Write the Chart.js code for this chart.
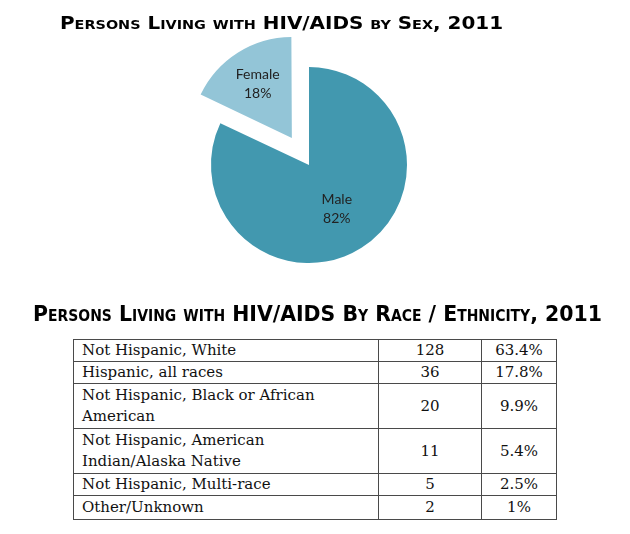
<!DOCTYPE html>
<html>
<head>
<meta charset="utf-8">
<script src="https://cdn.jsdelivr.net/npm/chart.js@4"></script>
<style>
  html, body { margin: 0; padding: 0; background: #fff; }
  body { width: 630px; height: 534px; position: relative; overflow: hidden; }
  #pie { position: absolute; left: 0; top: 0; }
  .title {
    position: absolute; white-space: nowrap; line-height: 1;
    font-family: "DejaVu Sans Condensed", "DejaVu Sans", sans-serif; font-weight: bold;
    font-stretch: condensed; font-variant: small-caps; color: #000;
    transform-origin: 0 0; z-index: 2;
  }
  #title1 { left: 60px; top: 13.5px; font-size: 18px; }
  #title2 { left: 33px; top: 303px; font-size: 22px; }
  #race {
    position: absolute; left: 73px; top: 339px; width: 483px;
    border-collapse: collapse; table-layout: fixed;
    font-family: "DejaVu Serif", "Liberation Serif", serif; font-size: 15px;
    line-height: 21px; color: #111;
  }
  #race td { border: 1px solid #4a4a4a; padding: 0 40px 0 8px; vertical-align: middle; }
  #race td.num { text-align: center; padding: 0; }
</style>
</head>
<body>
<canvas id="pie" width="630" height="330"></canvas>
<div class="title" id="title1">Persons Living with HIV/AIDS by Sex, 2011</div>
<div class="title" id="title2">Persons Living with HIV/AIDS By Race / Ethnicity, 2011</div>
<table id="race">
  <colgroup><col style="width:305px"><col style="width:103px"><col style="width:75px"></colgroup>
  <tbody id="race-body"></tbody>
</table>
<script>
/* ── Data ──────────────────────────────────────────────────────── */
var sexLabels = ["Male", "Female"];
var sexValues = [82, 18];

var raceLabels = [
  "Not Hispanic, White",
  "Hispanic, all races",
  "Not Hispanic, Black or African American",
  "Not Hispanic, American Indian/Alaska Native",
  "Not Hispanic, Multi-race",
  "Other/Unknown"
];
var raceCounts = [128, 36, 20, 11, 5, 2];
var racePcts = ["63.4%", "17.8%", "9.9%", "5.4%", "2.5%", "1%"];

/* ── Titles: stretch to the reference width ────────────────────── */
function fitWidth(id, w) {
  var el = document.getElementById(id);
  var nat = el.getBoundingClientRect().width;
  el.style.transform = "scaleX(" + (w / nat) + ")";
}
fitWidth("title1", 443);
fitWidth("title2", 569);

/* ── Table ─────────────────────────────────────────────────────── */
var rowHeights = [22, 22, 45, 45, 21, 24];
document.getElementById("race-body").innerHTML = raceLabels.map(function (lab, i) {
  return '<tr style="height:' + rowHeights[i] + 'px">' +
    '<td>' + lab + '</td>' +
    '<td class="num">' + raceCounts[i] + '</td>' +
    '<td class="num">' + racePcts[i] + '</td>' +
    '</tr>';
}).join("");

/* ── Pie labels plugin ─────────────────────────────────────────── */
// arcs are drawn shifted by offset / 4 (Chart.js v4)
var sliceLabels = {
  id: "sliceLabels",
  afterDatasetsDraw: function (chart, args, opts) {
    var ctx = chart.ctx;
    var meta = chart.getDatasetMeta(0);
    var data = chart.data.datasets[0].data;
    var total = data.reduce(function (a, b) { return a + b; }, 0);
    ctx.save();
    ctx.font = opts.font;
    ctx.fillStyle = opts.color;
    ctx.textAlign = "center";
    ctx.textBaseline = "middle";
    meta.data.forEach(function (arc, i) {
      var p = arc.getProps(["x", "y", "startAngle", "endAngle", "outerRadius"], true);
      var mid = (p.startAngle + p.endAngle) / 2;
      var d = (arc.options.offset || 0) / 4 + p.outerRadius * opts.dist[i];
      var x = p.x + Math.cos(mid) * d;
      var y = p.y + Math.sin(mid) * d;
      ctx.fillText(chart.data.labels[i], x, y - opts.lineGap / 2);
      ctx.fillText(Math.round(data[i] / total * 100) + "%", x, y + opts.lineGap / 2);
    });
    ctx.restore();
  }
};

new Chart(document.getElementById("pie").getContext("2d"), {
  type: "pie",
  data: {
    labels: sexLabels,
    datasets: [{
      data: sexValues,
      backgroundColor: ["#4298AF", "#93C5D7"],
      borderWidth: 0,
      offset: [0, 128]
    }]
  },
  options: {
    responsive: false,
    animation: false,
    devicePixelRatio: 1,
    layout: { padding: { left: 147, right: 159, top: 3, bottom: 3 } },
    plugins: {
      legend: { display: false },
      tooltip: { enabled: false },
      sliceLabels: { font: "14px Lato, 'Open Sans', sans-serif", color: "#222", lineGap: 19, dist: [0.53, 0.65] }
    }
  },
  plugins: [sliceLabels]
});
</script>
</body>
</html>
